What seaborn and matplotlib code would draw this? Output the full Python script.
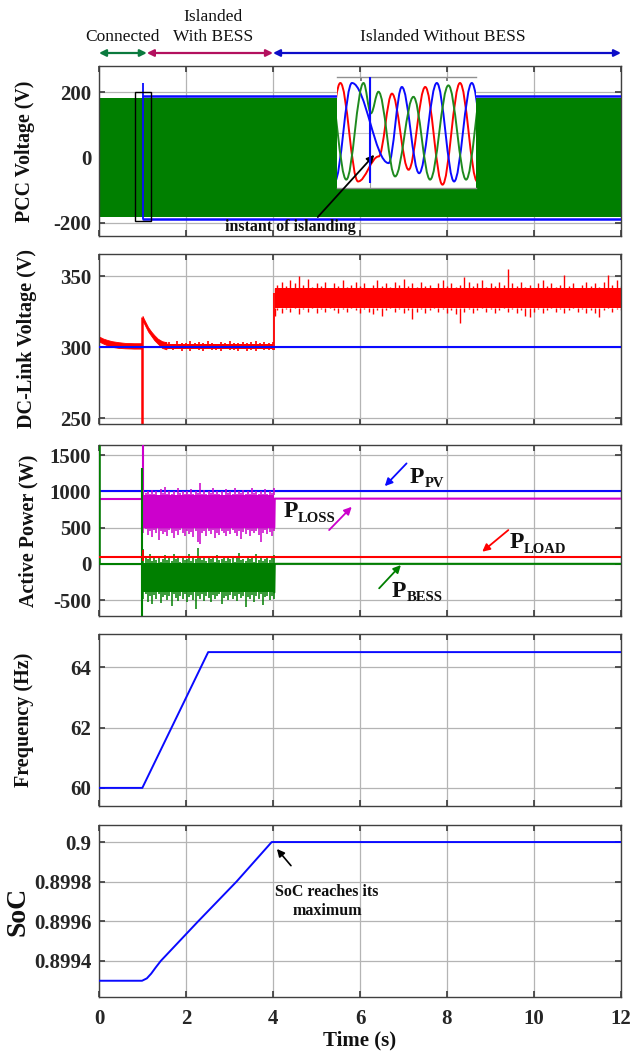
import numpy as np
import matplotlib
matplotlib.use("Agg")
import matplotlib.pyplot as plt
import matplotlib.transforms as mtransforms
from matplotlib.patches import Rectangle, PathPatch
from matplotlib.path import Path
import seaborn as sns

# ---------------- data ----------------
TIME_TICKS = [0, 2, 4, 6, 8, 10, 12]

# Operating modes shown above the first panel (start, end in s)
mode_names = ["Connected", "Islanded\nWith BESS", "Islanded Without BESS"]
mode_spans = [(0.0, 1.1), (1.1, 4.0), (4.0, 12.0)]

# PCC voltage: envelope of the three-phase voltages (V)
pcc_green_amp = 183
pcc_blue_t = [1.0, 12.0]
pcc_blue_amp = 187
pcc_spike_t, pcc_spike_top = 1.0, 228
zoom_box = (0.83, 1.20, -193, 200)   # t0, t1, v0, v1

# Three-phase waveform around the islanding instant (ms, V): peaks & troughs
phase_a_ext = [(-22.4, -184), (-14.2, 186), (-5.8, -184), (4.0, -90), (10.3, 146),
               (18.2, -140), (26.1, 171), (34.3, -196), (42.6, 186), (50.8, -184)]
phase_b_ext = [(-16.9, -184), (-8.7, 186), (8.7, -115), (15.0, 171), (23.2, -153),
               (31.6, 186), (39.8, -184), (48.2, 186), (56.5, -184)]
phase_c_ext = [(-19.7, 186), (-11.4, -177), (-3.2, 186), (0.3, 72), (3.9, 153),
               (11.8, -165), (20.5, 134), (28.4, -177), (37.1, 177), (45.5, -177),
               (53.7, 186)]

# DC-link voltage (V)
vdc_ref = 300
# smooth start-up and post-islanding transient (band edges)
vdc_a_t = [0.0, 0.1, 0.2, 0.3, 0.45, 0.6, 0.8, 0.98]
vdc_a_hi = [307.5, 306, 305, 304.2, 303.5, 303, 302.8, 302.8]
vdc_a_lo = [304, 302.5, 301.2, 300.2, 299.5, 299.2, 299, 299]
vdc_b_t = [1.0, 1.03, 1.08, 1.13, 1.2, 1.27, 1.35, 1.45, 1.55]
vdc_b_hi = [322, 320, 317, 314, 311, 308.5, 306, 304.2, 303.5]
vdc_b_lo = [318, 317, 314, 311, 308, 305, 302.5, 299.5, 298.5]
# ripple while islanded with BESS: dense core and spike tips
vdc_c_core = (298.6, 302.2)
vdc_c_hi = [303.5, 302.5, 304, 302.8, 303.2, 304.5, 302.6, 303.4, 302.9, 304.2,
            303, 302.5, 303.8, 302.7, 304.3, 303.1, 302.6, 303.9, 302.8, 303.3,
            304.1, 302.7, 303.5, 302.9, 303.6]
vdc_c_lo = [298.5, 297.8, 298.9, 297.2, 298.4, 297.6, 298.8, 297.9, 297.3, 298.6,
            297.7, 298.2, 297.1, 298.7, 297.8, 298.3, 297.5, 298.9, 297.6, 298.1,
            297.4, 298.6, 297.9, 298.3, 297.7]
# ripple while islanded without BESS: dense core and spike tips
vdc_d_core = (327.5, 341.5)
vdc_d_hi = [338,
            344, 346, 343, 347, 345, 350, 344, 348, 342, 345,
            343, 346, 341, 345, 343, 347, 342, 344, 346, 343,
            345, 341, 344, 347, 343, 345, 342, 346, 344, 348,
            343, 345, 342, 346, 343, 344, 341, 345, 347, 343,
            345, 342, 344, 349, 346, 343, 345, 347, 342, 345,
            343, 346, 344, 355, 345, 343, 346, 342, 344, 341,
            345, 347, 343, 345, 342, 344, 351, 343, 345, 341,
            344, 346, 343, 345, 342, 346, 351, 344, 347, 343]
vdc_d_lo = [322,
            326, 324, 327, 325, 328, 323, 327, 325, 328, 324,
            327, 325, 328, 326, 324, 327, 325, 328, 326, 324,
            327, 325, 323, 326, 322, 326, 328, 325, 327, 324,
            326, 320, 325, 327, 324, 326, 328, 325, 327, 324,
            326, 323, 317, 325, 327, 324, 326, 328, 325, 327,
            324, 326, 328, 325, 327, 324, 326, 322, 321, 325,
            327, 324, 326, 328, 325, 327, 324, 326, 328, 325,
            327, 324, 326, 324, 321, 326, 328, 325, 327, 326]
vdc_dip_t = 0.995

# Active powers (W)
p_pv = 1000
p_load = 100
p_loss_steady = 900
p_bess_steady = 0
loss_core = (500, 945)
loss_hi = [1050, 980, 1010, 960, 1020, 970, 1000, 950, 1030, 980,
           1060, 960, 1010, 970, 1000, 950, 1040, 980, 1010, 960,
           1000, 970, 1030, 960, 1010, 980, 1120, 970, 1020, 960,
           1000, 980, 1040, 960, 1010, 970, 1000, 950, 1030, 980,
           1010, 960, 1050, 970, 1000, 980, 1020, 960, 1000, 970,
           1040, 980, 1010, 960, 1000, 970, 1030, 960, 1010, 980,
           1040]
loss_lo = [430, 480, 400, 450, 370, 470, 420, 330, 460, 410,
           440, 380, 470, 420, 350, 450, 400, 470, 430, 380,
           460, 410, 440, 370, 450, 300, 280, 420, 460, 390,
           450, 410, 470, 360, 430, 400, 460, 420, 380, 450,
           410, 470, 430, 390, 460, 340, 440, 410, 470, 380,
           450, 420, 460, 400, 300, 430, 470, 410, 440, 380,
           450]
bess_core = (-395, 15)
bess_hi = [200, 90, 60, 130, 40, 80, 50, 110, 30, 70,
           120, 50, 90, 40, 140, 60, 80, 30, 100, 50,
           70, 130, 40, 90, 60, 220, 110, 50, 80, 40,
           100, 60, 90, 30, 120, 50, 70, 110, 40, 80,
           60, 100, 30, 90, 150, 50, 70, 40, 110, 60,
           80, 30, 130, 50, 90, 40, 70, 110, 50, 80,
           120]
bess_lo = [-480, -420, -520, -450, -560, -430, -490, -410, -540, -460,
           -430, -500, -450, -580, -420, -470, -510, -440, -490, -420,
           -530, -460, -430, -500, -620, -450, -480, -420, -510, -440,
           -470, -530, -430, -490, -450, -420, -560, -470, -440, -500,
           -430, -480, -450, -510, -420, -470, -440, -600, -460, -490,
           -430, -520, -450, -480, -420, -570, -460, -440, -500, -450,
           -480]
loss_spike = (900, 1640)
bess_spike = (-720, 1320)
load_spike = (40, 190)

# Frequency (Hz)
freq_t = [0.0, 0.996, 2.51, 12.0]
freq_v = [60.0, 60.0, 64.5, 64.5]

# Battery state of charge
soc_t = [0.0, 0.99, 1.1, 1.2, 1.3, 1.42, 2.28, 3.16, 3.97, 12.0]
soc_v = [0.8993, 0.8993, 0.899312, 0.899336, 0.899366, 0.8994, 0.8996, 0.8998, 0.9, 0.9]

# ---------------- style ----------------
BLUE = "#0a0aff"
GREEN = "#007f00"
RED = "#ff0000"
MAGENTA = "#cc00cc"
MODE_COLORS = ["#0b7a3e", "#b3105e", "#0d0dc8"]

sns.set_theme(style="white")
plt.rcParams.update({
    "font.family": ["Liberation Serif", "DejaVu Serif"],
    "font.weight": "bold",
    "axes.labelweight": "bold",
    "axes.unicode_minus": False,
    "axes.edgecolor": "#404040",
    "axes.linewidth": 1.0,
    "axes.grid": True,
    "axes.axisbelow": True,
    "grid.color": "#b4b4b4",
    "grid.linewidth": 0.9,
    "xtick.direction": "in",
    "ytick.direction": "in",
    "xtick.top": True,
    "ytick.right": True,
    "xtick.bottom": True,
    "ytick.left": True,
    "xtick.major.size": 4,
    "ytick.major.size": 4,
    "xtick.color": "#404040",
    "ytick.color": "#404040",
    "xtick.labelcolor": "#262626",
    "ytick.labelcolor": "#262626",
    "xtick.labelsize": 15,
    "ytick.labelsize": 15,
    "ytick.major.pad": 5.5,
    "xtick.major.pad": 9,
})

W, H = 633, 1059
fig = plt.figure(figsize=(W / 100, H / 100), dpi=100, facecolor="white")


def panel(top, bottom):
    return fig.add_axes([99 / W, 1 - bottom / H, 522 / W, (bottom - top) / H])


def line(ax, x, y, color, lw=1.5, z=3):
    sns.lineplot(x=x, y=y, ax=ax, color=color, linewidth=lw, estimator=None,
                 sort=False, legend=False, zorder=z)


def band(ax, t, lo, hi, color, z=3):
    ax.fill_between(t, lo, hi, color=color, linewidth=0.6, edgecolor=color, zorder=z)


def noisy(ax, t, lo, hi, core, color, lw=1.0, z=3):
    # dense ripple core with individual spikes reaching each read tip
    ax.fill_between([t[0], t[-1]], [core[0]] * 2, [core[1]] * 2, color=color,
                    linewidth=0, zorder=z)
    ax.vlines(t, core[1], hi, color=color, lw=lw, zorder=z)
    ax.vlines(t, lo, core[0], color=color, lw=lw, zorder=z)


def wave(ax, ext, color, lw=1.4):
    # smooth half-cycles between successive peaks/troughs (horizontal tangents)
    k = 0.364
    verts = [ext[0]]
    codes = [Path.MOVETO]
    for (t0, v0), (t1, v1) in zip(ext[:-1], ext[1:]):
        d = t1 - t0
        verts += [(t0 + k * d, v0), (t1 - k * d, v1), (t1, v1)]
        codes += [Path.CURVE4] * 3
    ax.add_patch(PathPatch(Path(verts, codes), fill=False, edgecolor=color,
                           linewidth=lw, transform=ax.transData, zorder=3))


axes = [panel(66, 236), panel(254, 424), panel(445, 616), panel(634, 806), panel(825, 997)]
for ax in axes:
    ax.set_xlim(0, 12)
    ax.set_xticks(TIME_TICKS)
    ax.set_facecolor("white")
    for s in ax.spines.values():
        s.set_color("#404040")
for ax in axes[:-1]:
    ax.set_xticklabels([])

ax1, ax2, ax3, ax4, ax5 = axes

# ---------- PCC voltage ----------
ax1.set_ylim(-240, 280)
ax1.set_yticks([-200, 0, 200])
ax1.fill_between([0, 12], [-pcc_green_amp] * 2, [pcc_green_amp] * 2, color=GREEN,
                 linewidth=0, zorder=2)
line(ax1, pcc_blue_t, [pcc_blue_amp] * 2, BLUE, lw=1.8)
line(ax1, pcc_blue_t, [-pcc_blue_amp] * 2, BLUE, lw=1.8)
ax1.vlines(pcc_spike_t, -pcc_blue_amp, pcc_spike_top, color=BLUE, lw=1.3, zorder=3)
bt0, bt1, bv0, bv1 = zoom_box
ax1.add_patch(Rectangle((bt0, bv0), bt1 - bt0, bv1 - bv0, fill=False,
                        edgecolor="black", linewidth=1.0, zorder=4))
ax1.text(4.4, -213, "instant of islanding", ha="center", va="center",
         fontsize=11.5, fontweight="bold", color="#111111", zorder=5)

# operating-mode arrows above the first panel
blend = mtransforms.blended_transform_factory(ax1.transData, fig.transFigure)
y_arrow = 1 - 53 / H
for (t0, t1), c in zip(mode_spans, MODE_COLORS):
    ax1.annotate("", xy=(t1, y_arrow), xycoords=blend, xytext=(t0, y_arrow),
                 textcoords=blend,
                 arrowprops=dict(arrowstyle="<|-|>", color=c, lw=1.6,
                                 mutation_scale=10, shrinkA=0, shrinkB=0))
ax1.text(0.55, 1 - 37 / H, mode_names[0], transform=blend, ha="center", va="center",
         fontsize=12.5, fontweight="normal", color="#111111")
ax1.text(2.63, 1 - 27 / H, mode_names[1], transform=blend, ha="center", va="center",
         fontsize=12.5, fontweight="normal", color="#111111", linespacing=1.35)
ax1.text(7.9, 1 - 37 / H, mode_names[2], transform=blend, ha="center", va="center",
         fontsize=12.5, fontweight="normal", color="#111111")

# inset with the waveforms around islanding
axin = fig.add_axes([337 / W, 1 - 188 / H, 139 / W, 111 / H], zorder=5)
axin.set_facecolor("white")
axin.set_xlim(-15.8, 50.2)
axin.set_ylim(-208.5, 208.5)
axin.grid(False)
axin.axhline(0, color="#c8c8c8", lw=0.8, zorder=1)
axin.axvline(0, color="#a0a0a0", lw=0.8, zorder=1)
axin.spines["left"].set_visible(False)
axin.spines["right"].set_visible(False)
axin.spines["top"].set_color("#909090")
axin.spines["bottom"].set_color("#909090")
axin.set_xticks([-4.4, 36.6])
axin.set_yticks([])
axin.tick_params(axis="x", top=True, bottom=False, labeltop=False, labelbottom=False,
                 length=3, color="#707070")
axin.tick_params(axis="y", left=False, right=False)
wave(axin, phase_a_ext, RED)
wave(axin, phase_b_ext, BLUE)
wave(axin, phase_c_ext, "#1f8a1f")
axin.vlines(0, -190, 208.5, color=BLUE, lw=1.5, zorder=4)
axin.annotate("", xy=(1.9, -84), xycoords="data", xytext=(5.03, -182),
              textcoords=ax1.transData,
              arrowprops=dict(arrowstyle="-|>", color="black", lw=1.3,
                              mutation_scale=11, shrinkA=0, shrinkB=0))

# ---------- DC-link voltage ----------
ax2.set_ylim(246, 365.5)
ax2.set_yticks([250, 300, 350])
vdc_c_t = list(np.linspace(1.6, 4.0, len(vdc_c_hi)))
vdc_d_t = [4.05] + list(np.linspace(4.1, 12.0, len(vdc_d_hi) - 1))
band(ax2, vdc_a_t, vdc_a_lo, vdc_a_hi, RED, z=2)
band(ax2, vdc_b_t, vdc_b_lo, vdc_b_hi, RED, z=2)
noisy(ax2, [vdc_b_t[-1]] + vdc_c_t, [vdc_b_lo[-1]] + vdc_c_lo,
      [vdc_b_hi[-1]] + vdc_c_hi, vdc_c_core, RED, lw=1.2, z=2)
noisy(ax2, vdc_d_t, vdc_d_lo, vdc_d_hi, vdc_d_core, RED, lw=1.0, z=2)
ax2.vlines(0.0, 246, 306, color="#ff6060", lw=1.2, zorder=2)
ax2.vlines(vdc_dip_t, 246, 321, color=RED, lw=1.8, zorder=2)
ax2.vlines(4.03, 298, 338, color=RED, lw=1.3, zorder=2)
line(ax2, [0, 12], [vdc_ref, vdc_ref], BLUE, lw=1.5, z=3)

# ---------- active powers ----------
ax3.set_ylim(-720, 1640)
ax3.set_yticks([-500, 0, 500, 1000, 1500])
p_t = list(np.linspace(1.02, 4.02, len(loss_hi)))
line(ax3, [0, 12], [p_pv, p_pv], BLUE, lw=1.5, z=2)
ax3.vlines(1.0, loss_spike[0], loss_spike[1], color=MAGENTA, lw=1.5, zorder=3)
line(ax3, [0, 1.0], [p_loss_steady] * 2, MAGENTA, lw=1.5)
noisy(ax3, p_t, loss_lo, loss_hi, loss_core, MAGENTA, lw=1.1)
line(ax3, [4.03, 4.04, 12], [loss_core[0], p_loss_steady, p_loss_steady], MAGENTA, lw=1.5)
ax3.vlines(0.0, 0, 1640, color=GREEN, lw=1.8, zorder=3)
ax3.vlines(0.985, bess_spike[0], bess_spike[1], color=GREEN, lw=1.5, zorder=3)
line(ax3, [0, 1.0], [p_bess_steady] * 2, GREEN, lw=1.5)
noisy(ax3, p_t, bess_lo, bess_hi, bess_core, GREEN, lw=1.1)
line(ax3, [4.03, 4.04, 12], [bess_core[0], p_bess_steady, p_bess_steady], GREEN, lw=1.5)
line(ax3, [0, 12], [p_load, p_load], RED, lw=1.5, z=4)
ax3.vlines(1.0, load_spike[0], load_spike[1], color=RED, lw=1.3, zorder=4)


def plabel(ax, t, v, sub):
    ax.text(t, v, "P", fontsize=17, fontweight="bold", ha="left", va="baseline",
            color="#111111", zorder=6)
    ax.annotate(sub, xy=(t, v), xycoords="data", xytext=(10.5, -3),
                textcoords="offset points", fontsize=10.5, fontweight="bold",
                ha="left", va="baseline", color="#111111", zorder=6)


def parrow(ax, start, end, color):
    ax.annotate("", xy=end, xytext=start,
                arrowprops=dict(arrowstyle="-|>", color=color, lw=1.3,
                                mutation_scale=11, shrinkA=0, shrinkB=0), zorder=6)


plabel(ax3, 7.15, 1118, "PV")
plabel(ax3, 4.24, 641, "LOSS")
plabel(ax3, 9.43, 213, "LOAD")
plabel(ax3, 6.73, -454, "BESS")
parrow(ax3, (7.07, 1386), (6.57, 1072), BLUE)
parrow(ax3, (5.29, 466), (5.81, 787), MAGENTA)
parrow(ax3, (9.41, 466), (8.81, 167), RED)
parrow(ax3, (6.44, -338), (6.94, -17), GREEN)

# ---------- frequency ----------
ax4.set_ylim(59.4, 65.1)
ax4.set_yticks([60, 62, 64])
line(ax4, freq_t, freq_v, BLUE, lw=1.4)

# ---------- state of charge ----------
ax5.set_ylim(0.899218, 0.900086)
ax5.set_yticks([0.8994, 0.8996, 0.8998, 0.9])
ax5.set_yticklabels(["0.8994", "0.8996", "0.8998", "0.9"])
line(ax5, soc_t, soc_v, BLUE, lw=1.4)
ax5.annotate("SoC reaches its\nmaximum", xy=(4.09, 0.899965), xytext=(5.24, 0.899701),
             ha="center", va="center", fontsize=11.5, fontweight="bold",
             color="#111111", linespacing=1.25,
             arrowprops=dict(arrowstyle="-|>", color="black", lw=1.2,
                             mutation_scale=11, shrinkA=14, shrinkB=0,
                             relpos=(0.3, 1.0)))
ax5.set_xticklabels([str(v) for v in TIME_TICKS])
ax5.set_xlabel("Time (s)", fontsize=15, fontweight="bold", color="#111111")
ax5.xaxis.set_label_coords(0.5, -0.195)

# ---------- y labels ----------
ylabels = [("PCC Voltage (V)", 14.3, 25), ("DC-Link Voltage (V)", 14.5, 27),
           ("Active Power (W)", 14.5, 28), ("Frequency (Hz)", 14.5, 24),
           ("SoC", 20, 18)]
for ax, (txt, fs, xc) in zip(axes, ylabels):
    ax.set_ylabel(txt, fontsize=fs, fontweight="bold", color="#111111")
    ax.yaxis.set_label_coords((xc - 99) / 522, 0.5)
    ax.yaxis.label.set_va("center")

fig.savefig("out.png", dpi=100, facecolor="white")
